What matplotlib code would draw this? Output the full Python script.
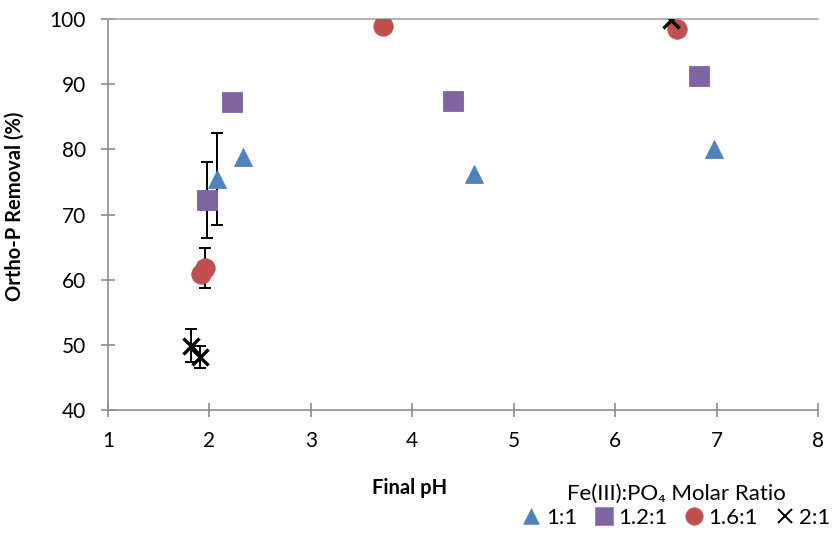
import numpy as np
import matplotlib
matplotlib.use("Agg")
import matplotlib.pyplot as plt
from matplotlib.lines import Line2D

plt.rcParams["font.family"] = ["Lato", "DejaVu Sans"]

# Fe(III):PO4 molar ratio series (final pH, ortho-P removal %, error)
ratio_labels = ["1:1", "1.2:1", "1.6:1", "2:1"]

ph_1_1 = [2.07, 2.33, 4.61, 6.97]
rem_1_1 = [75.4, 78.8, 76.2, 80.0]
err_1_1 = [7.05, np.nan, np.nan, np.nan]

ph_1_2 = [1.98, 2.22, 4.40, 6.83]
rem_1_2 = [72.2, 87.2, 87.4, 91.3]
err_1_2 = [5.8, np.nan, np.nan, np.nan]

ph_1_6 = [1.92, 1.96, 3.71, 6.61]
rem_1_6 = [60.9, 61.85, 99.0, 98.4]
err_1_6 = [np.nan, 3.05, np.nan, np.nan]

ph_2_1 = [1.82, 1.91, 6.55]
rem_2_1 = [49.9, 48.1, 99.8]
err_2_1 = [2.6, 1.65, np.nan]

x_ticks = [1, 2, 3, 4, 5, 6, 7, 8]
y_ticks = [40, 50, 60, 70, 80, 90, 100]

series = [
    (ph_1_1, rem_1_1, err_1_1, dict(marker="^", color="#4F81BD", ms=13.5)),
    (ph_1_2, rem_1_2, err_1_2, dict(marker="s", color="#8064A2", ms=14.0)),
    (ph_1_6, rem_1_6, err_1_6, dict(marker="o", color="#C0504D", ms=14.0)),
    (ph_2_1, rem_2_1, err_2_1, dict(marker="x", color="black", ms=11.5, mew=2.4)),
]

fig = plt.figure(figsize=(8.33, 5.39), dpi=100)
ax = fig.add_axes([0.1297, 0.2393, 0.8523, 0.7254])

handles = []
for xs, ys, errs, style in series:
    ax.errorbar(xs, ys, yerr=errs, fmt="none", ecolor="black",
                elinewidth=1.4, capsize=4.5, capthick=1.4, zorder=2)
    ax.plot(xs, ys, linestyle="none", marker=style["marker"],
            color=style["color"], markersize=style["ms"],
            markeredgewidth=style.get("mew", 0.6),
            markeredgecolor=style["color"], zorder=3)
    handles.append(Line2D([], [], linestyle="none", marker=style["marker"],
                          color=style["color"],
                          markersize=style["ms"] * 0.9,
                          markeredgewidth=style.get("mew", 0.6) * 0.6,
                          markeredgecolor=style["color"]))

ax.set_xlim(1, 8)
ax.set_ylim(40, 100)
ax.set_xticks(x_ticks)
ax.set_yticks(y_ticks)
ax.tick_params(axis="both", direction="inout", length=10, width=1.2,
               color="#8C8C8C", labelsize=15, labelcolor="black")
ax.tick_params(axis="x", pad=10)
ax.tick_params(axis="y", pad=11)

for side in ["left", "bottom", "top"]:
    ax.spines[side].set_color("#8C8C8C")
    ax.spines[side].set_linewidth(1.2)
ax.spines["top"].set_color("#A6A6A6")
ax.spines["right"].set_visible(False)

ax.set_xlabel("Final pH", fontsize=14.5, fontweight="bold")
ax.xaxis.set_label_coords((410 - 108) / 710, -0.175)
ax.set_ylabel("Ortho-P Removal (%)", fontsize=14.5, fontweight="bold")
ax.yaxis.set_label_coords(-0.118, 0.52)

leg = fig.legend(handles, ratio_labels, loc="center", bbox_to_anchor=(0.812, 0.062),
                 ncol=4, frameon=False, fontsize=16, handlelength=0.8,
                 handletextpad=0.25, columnspacing=0.8, borderpad=0.1,
                 labelspacing=0.2,
                 title="Fe(III):PO\u2084 Molar Ratio", title_fontsize=16)

fig.savefig("out.png", dpi=100)
